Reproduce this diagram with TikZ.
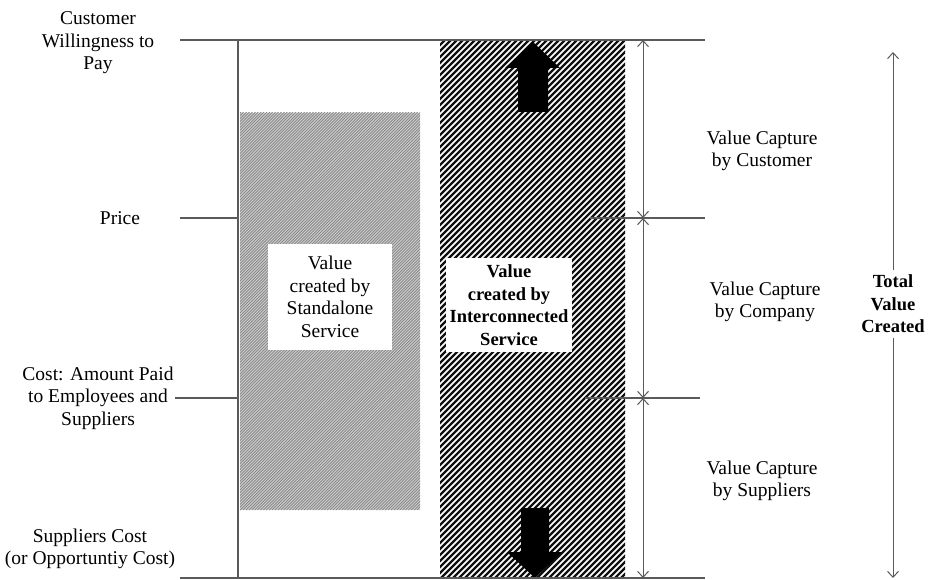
\documentclass[tikz,border=0pt]{standalone}
\usepackage{fontspec}
\setmainfont{Liberation Serif}
\usetikzlibrary{arrows.meta}
\definecolor{vline}{HTML}{5a5a5a}
\definecolor{vhatch}{HTML}{8a8a8a}
\definecolor{vfill}{HTML}{cfcfcf}
\definecolor{vink}{HTML}{111111}

\begin{document}
\begin{tikzpicture}[x=1pt,y=-1pt,
		guide/.style={draw=vline, line width=1.3pt},
		capture/.style={draw=vline, line width=1pt, {Straight Barb[length=6pt,width=11pt]}-{Straight Barb[length=6pt,width=11pt]}},
		lbl/.style={align=center, font=\fontsize{19.5}{22.5}\selectfont, inner sep=1pt},
		boldlbl/.style={lbl, font=\fontsize{18.5}{22.5}\selectfont\bfseries},
		boxlbl/.style={fill=white, inner sep=4pt}]
		\useasboundingbox (0,0) rectangle (928,580);
		% standalone column, fine gray hatch
		\begin{scope}
			\clip (240,113) rectangle (420,510);
			\fill[vfill] (240,113) rectangle (420,510);
			\foreach \k in {0,...,200}
				\draw[vhatch, line width=0.9pt] (240-400+2.9*\k,510) -- ++(420,-420);
		\end{scope}
		% interconnected column, bold black hatch
		\begin{scope}
			\clip (440,40) rectangle (625,578);
			\foreach \k in {0,...,125}
				\draw[vink, line width=2.2pt] (440-545+6*\k,578) -- ++(560,-560);
		\end{scope}
		% block arrows
		\fill[black] (533,42) -- (560,68) -- (548,68) -- (548,112) -- (518,112) -- (518,68) -- (505,68) -- cycle;
		\fill[black] (535,578) -- (562,552) -- (549,552) -- (549,508) -- (521,508) -- (521,552) -- (507,552) -- cycle;
		% guide lines
		\draw[guide] (180,40) -- (705,40);
		\draw[guide] (180,578) -- (705,578);
		\draw[guide] (238,40) -- (238,578);
		\draw[guide] (180,218) -- (238,218);
		\draw[guide] (590,218) -- (705,218);
		\draw[guide] (585,398) -- (700,398);
		% left labels
		\node[lbl] (wtp) at (98,43) {Customer\\Willingness to\\Pay};
		\node[lbl] (price) at (120,218) {Price};
		\node[lbl] (cost) at (98,398) {Cost: Amount Paid\\to Employees and\\Suppliers};
		\node[lbl] (supcost) at (90,549) {Suppliers Cost\\(or Opportuntiy Cost)};
		\draw[guide] (cost.east) -- (238,398);
		% inner boxes
		\node[lbl, boxlbl, minimum width=124pt, minimum height=106pt] (alone) at (330,297) {Value\\created by\\Standalone\\Service};
		\node[boldlbl, boxlbl, minimum width=122pt, minimum height=94pt] (inter) at (509,305) {Value\\created by\\Interconnected\\Service};
		% value capture
		\coordinate (lwtp) at (643,40);
		\coordinate (lprice) at (643,218);
		\coordinate (lcost) at (643,398);
		\coordinate (lsup) at (643,578);
		\draw[capture] (lwtp) -- (lprice);
		\draw[capture] (lprice) -- (lcost);
		\draw[capture] (lcost) -- (lsup);
		\node[lbl] (cust) at (762,151) {Value Capture\\by Customer};
		\node[lbl] (comp) at (765,302) {Value Capture\\by Company};
		\node[lbl] (supp) at (762,481) {Value Capture\\by Suppliers};
		% total
		\node[boldlbl, inner sep=5pt] (total) at (893,304) {Total\\Value\\Created};
		\coordinate (ttop) at (893,52);
		\coordinate (tbot) at (893,578);
		\draw[draw=vline, line width=1pt, -{Straight Barb[length=6pt,width=11pt]}] (total) -- (ttop);
		\draw[draw=vline, line width=1pt, -{Straight Barb[length=6pt,width=11pt]}] (total) -- (tbot);
	\end{tikzpicture}
\end{document}
